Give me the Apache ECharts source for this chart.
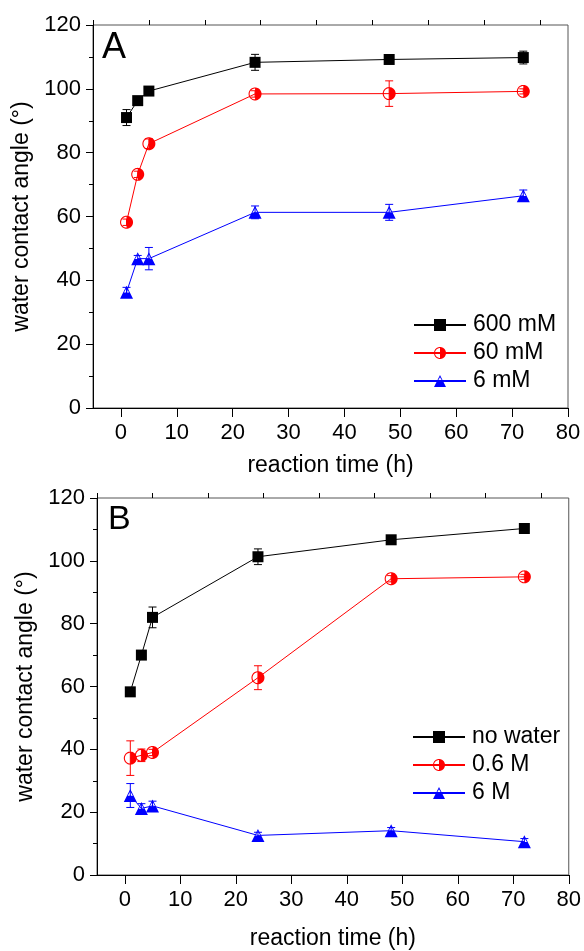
<!DOCTYPE html>
<html>
<head>
<meta charset="utf-8">
<script src="https://cdn.jsdelivr.net/npm/echarts@6/dist/echarts.min.js"></script>
<style>
  html, body { margin: 0; padding: 0; background: #fff; }
  #chart { width: 584px; height: 951px; }
</style>
</head>
<body>
<div id="chart"></div>
<script>
// ---- data ----
const times = [1, 3, 5, 24, 48, 72];

const namesA = ['600 mM', '60 mM', '6 mM'];
const a600 = [91.0, 96.3, 99.3, 108.3, 109.2, 109.8];
const a600Err = [2.5, 1.0, 1.0, 2.5, 0.8, 2.0];
const a60 = [58.2, 73.2, 82.8, 98.4, 98.5, 99.2];
const a60Err = [1.0, 1.0, 1.5, 1.0, 4.0, 0.8];
const a6 = [36.3, 46.8, 46.8, 61.3, 61.3, 66.5];
const a6Err = [1.5, 1.0, 3.5, 2.0, 2.5, 1.8];

const namesB = ['no water', '0.6 M', '6 M'];
const bNo = [58.3, 70.0, 82.0, 101.3, 106.7, 110.3];
const bNoErr = [1.0, 1.0, 3.3, 2.5, 1.0, 0.8];
const b06 = [37.2, 38.1, 39.0, 62.8, 94.3, 94.9];
const b06Err = [5.5, 2.0, 1.0, 3.8, 1.0, 0.8];
const b6 = [25.3, 21.2, 22.0, 12.6, 14.1, 10.6];
const b6Err = [3.8, 1.5, 1.5, 1.0, 1.0, 1.0];

const xMajorTicks = [0, 10, 20, 30, 40, 50, 60, 70, 80];
const xMinorTicks = [-5, 5, 15, 25, 35, 45, 55, 65, 75];
const yTickLabels = [0, 20, 40, 60, 80, 100, 120];

const xTitle = 'reaction time (h)';
const yTitle = 'water contact angle (°)';
const panelLabels = ['A', 'B'];

// ---- marker shapes ----
function circlePts(cx, cy, r, n, startA, endA) {
  const pts = [];
  for (let i = 0; i <= n; i++) {
    const t = startA + (endA - startA) * i / n;
    pts.push([cx + r * Math.cos(t), cy + r * Math.sin(t)]);
  }
  return pts;
}
function toPath(pts) {
  return 'M' + pts.map(p => p[0].toFixed(3) + ' ' + p[1].toFixed(3)).join(' L') + ' Z';
}
// half-filled circle: outer disc minus left inner half-disc
const outer = circlePts(12, 12, 12, 48, 0, Math.PI * 2);
const innerLeft = circlePts(12, 12, 10, 24, Math.PI / 2, Math.PI * 1.5).reverse();
const halfCircle = 'path://' + toPath(outer) + ' ' + toPath(innerLeft);
// half-filled triangle: triangle minus upper inner triangle
const halfTriangle = 'path://M12 0 L24 24 L0 24 Z M12 4.5 L7.2 12.6 L16.8 12.6 Z';

const FONT = "'Liberation Sans', Arial, sans-serif";

function errBars(color) {
  return function (params, api) {
    const x = api.value(0), y = api.value(1), e = api.value(2);
    const lo = api.coord([x, y - e]);
    const hi = api.coord([x, y + e]);
    const w = 4;
    const st = { stroke: color, lineWidth: 1 };
    return {
      type: 'group',
      children: [
        { type: 'line', shape: { x1: lo[0], y1: lo[1], x2: hi[0], y2: hi[1] }, style: st },
        { type: 'line', shape: { x1: lo[0] - w, y1: lo[1], x2: lo[0] + w, y2: lo[1] }, style: st },
        { type: 'line', shape: { x1: hi[0] - w, y1: hi[1], x2: hi[0] + w, y2: hi[1] }, style: st }
      ]
    };
  };
}

function zip(vals, errs) {
  return times.map((t, i) => [t, vals[i], errs[i]]);
}

const colors = ['#000000', '#ff0000', '#0000ff'];
const symbols = ['rect', halfCircle, halfTriangle];
const symbolSizes = [11, 13, 13];

function makeSeries(names, valsList, errsList, xi, yi) {
  const out = [];
  names.forEach((n, k) => {
    out.push({
      type: 'custom',
      name: n + ' err',
      xAxisIndex: xi, yAxisIndex: yi,
      renderItem: errBars(colors[k]),
      encode: { x: 0, y: 1 },
      data: zip(valsList[k], errsList[k]),
      z: 2,
      silent: true
    });
    out.push({
      type: 'line',
      name: n,
      xAxisIndex: xi, yAxisIndex: yi,
      data: times.map((t, i) => [t, valsList[k][i]]),
      symbol: symbols[k],
      symbolSize: symbolSizes[k],
      showSymbol: true,
      lineStyle: { color: colors[k], width: 1 },
      itemStyle: { color: colors[k], borderWidth: 0 },
      z: 3 + k
    });
  });
  return out;
}

function xAxes(gridIndex) {
  return [
    {
      type: 'value', gridIndex, min: -5, max: 80,
      axisLine: { onZero: false, lineStyle: { color: '#000', width: 1 } },
      axisTick: { customValues: xMajorTicks, length: 9, lineStyle: { color: '#000' } },
      axisLabel: { customValues: xMajorTicks, fontSize: 22, color: '#000', fontFamily: FONT, margin: 14 },
      splitLine: { show: false },
      name: xTitle, nameLocation: 'middle', nameGap: gridIndex === 0 ? 46 : 52,
      nameTextStyle: { fontSize: 23, color: '#000', fontFamily: FONT }
    },
    {
      type: 'value', gridIndex, min: -5, max: 80,
      axisLine: { show: false, onZero: false },
      axisTick: { customValues: xMinorTicks, length: 5, lineStyle: { color: '#000' } },
      axisLabel: { show: false },
      splitLine: { show: false }
    }
  ];
}

function yAxis(gridIndex) {
  return {
    type: 'value', gridIndex, min: 0, max: 120, interval: 20,
    axisLine: { show: true, onZero: false, lineStyle: { color: '#000', width: 1 } },
    axisTick: { show: true, length: 7, lineStyle: { color: '#000' } },
    minorTick: { show: true, splitNumber: 2, length: 4, lineStyle: { color: '#000' } },
    axisLabel: {
      fontSize: 22, color: '#000', fontFamily: FONT, margin: 12,
      customValues: yTickLabels
    },
    splitLine: { show: false },
    minorSplitLine: { show: false },
    name: yTitle, nameLocation: 'middle', nameGap: 60,
    nameTextStyle: { fontSize: 23, color: '#000', fontFamily: FONT }
  };
}

const legendCommon = {
  orient: 'vertical',
  padding: 0,
  itemWidth: 52,
  itemHeight: 15,
  itemGap: 4,
  textStyle: { fontSize: 23, color: '#000', fontFamily: FONT, lineHeight: 24, padding: [0, 0, 0, 2] },
  selectedMode: false
};

const option = {
  animation: false,
  backgroundColor: '#fff',
  title: [
    { text: panelLabels[0], left: 102, top: 30, padding: 0,
      textStyle: { fontSize: 36, fontWeight: 'normal', color: '#000', fontFamily: FONT } },
    { text: panelLabels[1], left: 108, top: 503, padding: 0,
      textStyle: { fontSize: 34, fontWeight: 'normal', color: '#000', fontFamily: FONT } }
  ],
  grid: [
    { left: 93, top: 25, width: 475, height: 383, show: true, borderColor: '#555', borderWidth: 1, backgroundColor: 'transparent' },
    { left: 97, top: 498, width: 473, height: 380, show: true, borderColor: '#555', borderWidth: 1, backgroundColor: 'transparent' }
  ],
  xAxis: [...xAxes(0), ...xAxes(1)],
  yAxis: [yAxis(0), yAxis(1)],
  legend: [
    Object.assign({}, legendCommon, { data: namesA, left: 413, top: 313 }),
    Object.assign({}, legendCommon, { data: namesB, left: 412, top: 725 })
  ],
  series: [
    ...makeSeries(namesA, [a600, a60, a6], [a600Err, a60Err, a6Err], 0, 0),
    ...makeSeries(namesB, [bNo, b06, b6], [bNoErr, b06Err, b6Err], 2, 1)
  ]
};

const chart = echarts.init(document.getElementById('chart'), null, { renderer: 'canvas' });
chart.setOption(option);
</script>
</body>
</html>
